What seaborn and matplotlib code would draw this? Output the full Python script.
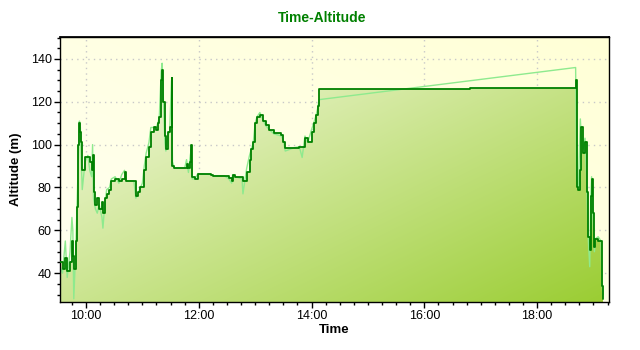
import numpy as np
import pandas as pd
import matplotlib
matplotlib.use("Agg")
import matplotlib.pyplot as plt
import matplotlib.dates as mdates
from matplotlib.colors import to_rgb
import seaborn as sns

# ---- data ----
times = ["09:32", "09:35", "09:38", "09:40", "09:43", "09:45", "09:46", "09:47", "09:49", "09:50",
         "09:52", "09:53", "09:54", "09:55", "09:56", "09:59", "10:02", "10:04", "10:06", "10:07",
         "10:08", "10:10", "10:12", "10:14", "10:17", "10:18", "10:20", "10:22", "10:25", "10:27",
         "10:31", "10:35", "10:38", "10:41", "10:43", "10:51", "10:53", "10:55", "10:57", "11:00",
         "11:02", "11:04", "11:07", "11:09", "11:12", "11:15", "11:17", "11:18", "11:20", "11:21",
         "11:22", "11:24", "11:25", "11:27", "11:29", "11:31", "11:32", "11:34", "11:45", "11:47",
         "11:49", "11:51", "11:52", "11:53", "11:56", "11:59", "12:13", "12:15", "12:27", "12:32",
         "12:35", "12:36", "12:39", "12:46", "12:47", "12:51", "12:54", "12:56", "12:58", "13:00",
         "13:02", "13:05", "13:08", "13:11", "13:15", "13:20", "13:28", "13:30", "13:32", "13:42",
         "13:47", "13:50", "13:53", "13:56", "14:00", "14:03", "14:05", "14:07", "14:08", "16:49",
         "18:40", "18:41", "18:42", "18:44", "18:46", "18:47", "18:49", "18:51", "18:53", "18:54",
         "18:56", "18:57", "18:58", "18:59", "19:01", "19:02", "19:05", "19:08", "19:09", "19:10"]

altitude = [45, 42, 47, 41, 45, 55, 48, 42, 55, 71,
            100, 110, 106, 101, 88, 94, 94, 92, 88, 95,
            78, 72, 75, 70, 73, 68, 75, 77, 79, 83,
            84, 83, 84, 87, 83, 83, 76, 78, 80, 80,
            88, 94, 99, 106, 108, 107, 110, 113, 130, 135,
            120, 104, 98, 106, 108, 131, 90, 89, 89, 91,
            89, 92, 100, 85, 84, 86.5, 86, 85.5, 85.5, 84.5,
            83, 86, 85, 85, 83, 87, 93, 98, 101, 110,
            113, 114, 111, 109, 107, 105.5, 104.5, 101, 98.5, 98.6,
            99, 99, 103, 101, 106, 110, 114, 118, 126, 126.6,
            126.6, 130, 80, 79, 88, 108, 96, 101, 78, 57,
            51, 76, 84, 68, 52, 56, 55, 55, 34, 28]

altitude_gps = [44, 40, 55, 38, 50, 66, 60, 28, 50, 65,
                95, 111, 108, 92, 79, 92, 95, 88, 85, 100,
                75, 70, 68, 72, 66, 61, 72, 79, 80, 84,
                85, 82, 86, 88, 83, 83, 75, 77, 79, 82,
                90, 96, 101, 108, 108, 108, 111, 113, 134, 138,
                125, 101, 97, 104, 106, 130, 92, 89, 89, 93,
                87, 95, 98, 84, 84, 86.5, 86, 85.5, 85.5, 84,
                82, 86, 85, 84, 77, 89, 95, 98, 101, 110,
                113, 115, 112, 109, 107, 105, 104, 102, 97, 98.6,
                99, 94, 104, 101, 107, 111, 114, 118, 121, None,
                None, 136, 84, 80, 112, 104, 98, 103, 80, 60,
                43, 74, 85, 70, 50, 56, 57, 55, 36, 30]

x_ticks = ["10:00", "12:00", "14:00", "16:00", "18:00"]
y_ticks = [40, 60, 80, 100, 120, 140]

# ---- build frame ----
day = "2000-01-01 "
df = pd.DataFrame({
    "Time": pd.to_datetime([day + t for t in times]),
    "alt": altitude,
    "gps": [np.nan if g is None else g for g in altitude_gps],
})
gps_df = df.dropna(subset=["gps"])

sns.set_theme(style="white")
plt.rcParams["font.family"] = ["Liberation Sans", "DejaVu Sans"]

fig = plt.figure(figsize=(6.4, 3.5), dpi=100)
fig.patch.set_facecolor("white")
ax = fig.add_axes([0.09375, 0.137, 0.8578, 0.757])
ax.set_facecolor("none")

xmin = pd.Timestamp(day + "09:32:20")
xmax = pd.Timestamp(day + "19:16:30")
ymin, ymax = 26.5, 150.2

# background gradient (light yellow)
n = 200
u = np.linspace(0, 1, n)[None, :]
v = np.linspace(1, 0, n)[:, None]
t_bg = (u + v) / 2.0
c0 = np.array(to_rgb("#FFFFF2"))
c1 = np.array(to_rgb("#FFFFD6"))
bg = c0 + (c1 - c0) * t_bg[..., None]
ax.imshow(bg, extent=[0, 1, 0, 1], transform=ax.transAxes, aspect="auto",
          zorder=0.1, interpolation="bilinear")

# area under the step line with diagonal green gradient
poly = ax.fill_between(df["Time"], df["alt"], ymin - 5, step="post",
                       facecolor="none", edgecolor="none")
t_fill = (u + (1 - v)) / 2.0
f0 = np.array(to_rgb("#FDFDF0"))
f1 = np.array(to_rgb("#9ACD32"))
fg = f0 + (f1 - f0) * t_fill[..., None]
im = ax.imshow(fg, extent=[0, 1, 0, 1], transform=ax.transAxes, aspect="auto",
               zorder=1, interpolation="bilinear")
im.set_clip_path(poly.get_paths()[0], transform=ax.transData)

sns.lineplot(data=gps_df, x="Time", y="gps", ax=ax, color="#8EEA8E", lw=1.0,
             estimator=None, sort=False, zorder=2)
sns.lineplot(data=df, x="Time", y="alt", ax=ax, color="#008000", lw=1.3,
             estimator=None, sort=False, drawstyle="steps-post", zorder=3)

ax.set_xlim(xmin, xmax)
ax.set_ylim(ymin, ymax)

hour_loc = mdates.HourLocator(byhour=range(0, 24, 2))
min_loc = mdates.MinuteLocator(byminute=[0, 15, 30, 45])
ax.xaxis.set_major_locator(hour_loc)
ax.xaxis.set_minor_locator(min_loc)
ax.xaxis.set_major_formatter(mdates.DateFormatter("%H:%M"))
ax.set_yticks(y_ticks)
ax.yaxis.set_minor_locator(matplotlib.ticker.MultipleLocator(5))

ax.grid(True, which="major", color="#C8C8C8", linestyle=(0, (1, 3)), linewidth=1.0)
ax.set_axisbelow(True)

for s in ax.spines.values():
    s.set_visible(True)
    s.set_color("black")
    s.set_linewidth(1.0)

ax.tick_params(axis="both", which="both", colors="black", labelsize=9)
ax.tick_params(axis="x", which="major", direction="out", length=4, width=1, bottom=True, top=False, pad=2)
ax.tick_params(axis="x", which="minor", direction="out", length=2.5, width=1, bottom=True, top=False)
ax.tick_params(axis="y", which="major", direction="out", length=4, width=1, left=True, right=False, pad=2)
ax.tick_params(axis="y", which="minor", direction="out", length=2.5, width=1, left=True, right=False)

# inward ticks on top and right
secx = ax.secondary_xaxis("top")
secx.xaxis.set_major_locator(mdates.HourLocator(byhour=range(0, 24, 2)))
secx.xaxis.set_minor_locator(mdates.MinuteLocator(byminute=[0, 15, 30, 45]))
secx.tick_params(axis="x", which="major", direction="in", length=4, width=1, labeltop=False, colors="black")
secx.tick_params(axis="x", which="minor", direction="in", length=2.5, width=1, colors="black")
secx.spines["top"].set_color("black")
secy = ax.secondary_yaxis("right")
secy.set_yticks(y_ticks)
secy.yaxis.set_minor_locator(matplotlib.ticker.MultipleLocator(5))
secy.tick_params(axis="y", which="major", direction="in", length=4, width=1, labelright=False, colors="black")
secy.tick_params(axis="y", which="minor", direction="in", length=2.5, width=1, colors="black")
secy.spines["right"].set_color("black")

ax.set_xlabel("Time", fontsize=9.5, fontweight="bold", color="black", labelpad=1)
ax.set_ylabel("Altitude (m)", fontsize=9.5, fontweight="bold", color="black", labelpad=6)
fig.text(0.503, 0.948, "Time-Altitude", ha="center", va="center",
         fontsize=10, fontweight="bold", color="#008000")

fig.savefig("out.png", dpi=100)
